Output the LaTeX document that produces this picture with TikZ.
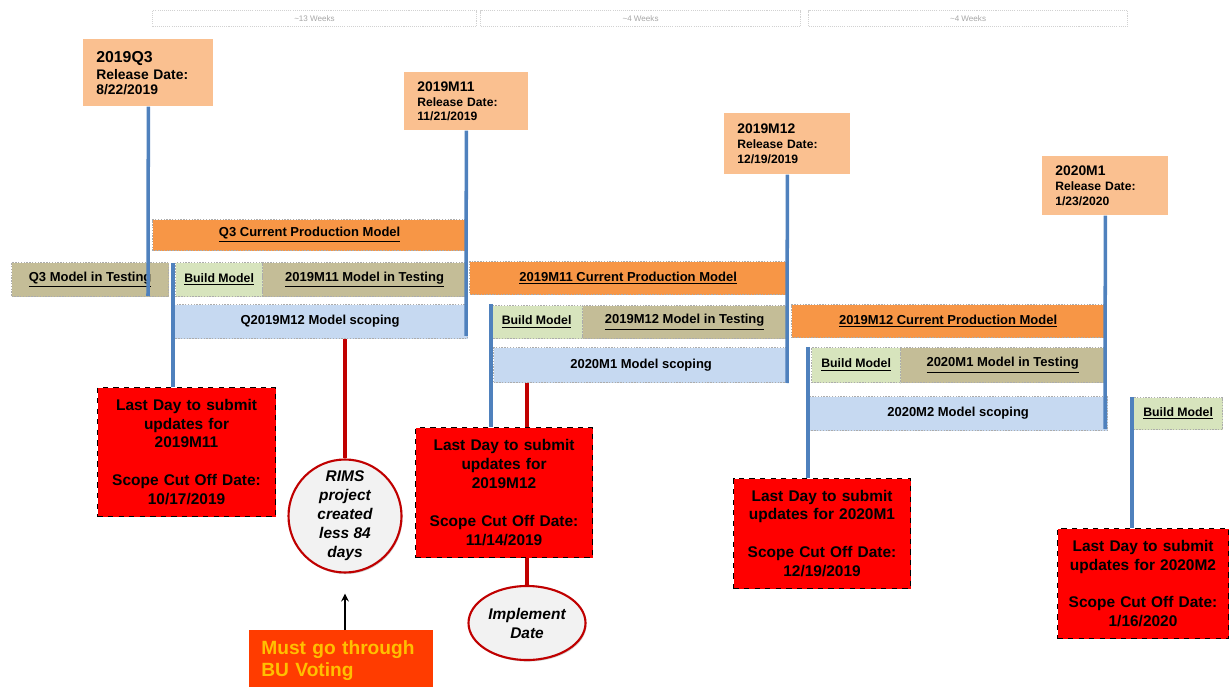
\documentclass[tikz,border=0pt]{standalone}
\usepackage{fontspec}
\setmainfont{Liberation Sans}
\usetikzlibrary{shapes.geometric,shadows}

\definecolor{relpeach}{HTML}{FAC090}
\definecolor{prodorange}{HTML}{F79646}
\definecolor{testtan}{HTML}{C4BD97}
\definecolor{buildgreen}{HTML}{D7E4BD}
\definecolor{scopeblue}{HTML}{C6D9F1}
\definecolor{lineblue}{HTML}{4F81BD}
\definecolor{darkred}{HTML}{C00000}
\definecolor{voteorange}{HTML}{FF3C00}
\definecolor{voteyellow}{HTML}{FFC000}

\tikzset{
  bar/.style={draw=gray!65, dash pattern=on 0.8pt off 0.8pt, line width=0.7pt,
    inner sep=0pt, anchor=north west, font=\fontsize{7.4}{9}\selectfont\bfseries},
  prod/.style={bar, fill=prodorange},
  test/.style={bar, fill=testtan},
  build/.style={bar, fill=buildgreen, font=\fontsize{7}{9}\selectfont\bfseries},
  scope/.style={bar, fill=scopeblue},
  week/.style={draw=gray!35, dash pattern=on 0.6pt off 0.6pt, line width=0.6pt,
    inner sep=0pt, anchor=north west, text=gray!70, font=\fontsize{4.6}{5}\selectfont},
  rel/.style={fill=relpeach, anchor=north west, inner xsep=2.6mm, inner ysep=0pt,
    align=left, font=\fontsize{6.9}{8.3}\selectfont\bfseries},
  cutoff/.style={draw=black, dashed, line width=0.6pt, fill=red, anchor=north west,
    inner sep=0pt, align=center, font=\fontsize{8.8}{10.8}\selectfont\bfseries},
  milestone/.style={draw=lineblue, line width=2pt},
  redline/.style={draw=darkred, line width=1.9pt},
  note/.style={draw=darkred, line width=1.2pt, fill=gray!10, inner sep=0pt, align=center,
    drop shadow={opacity=0.35, shadow xshift=0.6pt, shadow yshift=-0.9pt},
    font=\fontsize{8.8}{10.8}\selectfont\bfseries\itshape},
}

\begin{document}
\begin{tikzpicture}[x=0.2mm, y=-0.2mm]
  \useasboundingbox (0,0) rectangle (1229,687);

  % week spans
  \node[week, minimum width=324*0.2mm, minimum height=16*0.2mm] (wk1) at (152,10) {\textasciitilde13 Weeks};
  \node[week, minimum width=320*0.2mm, minimum height=16*0.2mm] (wk2) at (480,10) {\textasciitilde4 Weeks};
  \node[week, minimum width=319*0.2mm, minimum height=16*0.2mm] (wk3) at (808,10) {\textasciitilde4 Weeks};

  % releases
  \node[rel, text width=104*0.2mm, minimum height=67*0.2mm, font=\fontsize{7.9}{8.6}\selectfont\bfseries] (rq3) at (83,39)
    {{\fontsize{9}{10}\selectfont 2019Q3}\\[1pt]Release Date:\\8/22/2019};
  \node[rel, text width=98*0.2mm, minimum height=58*0.2mm] (rm11) at (404,72)
    {{\fontsize{7.9}{8.6}\selectfont 2019M11}\\Release Date:\\11/21/2019};
  \node[rel, text width=100*0.2mm, minimum height=61*0.2mm] (rm12) at (724,113)
    {{\fontsize{7.9}{8.6}\selectfont 2019M12}\\Release Date:\\12/19/2019};
  \node[rel, text width=100*0.2mm, minimum height=59*0.2mm] (rm1) at (1042,156)
    {{\fontsize{7.9}{8.6}\selectfont 2020M1}\\Release Date:\\1/23/2020};

  % bars
  \node[prod, minimum width=314*0.2mm, minimum height=31*0.2mm] (q3prod) at (152,219) {\underline{Q3 Current Production Model}};
  \node[test, minimum width=157*0.2mm, minimum height=34*0.2mm] (q3test) at (11,262) {\underline{Q3 Model in Testing}};
  \node[build, minimum width=87*0.2mm, minimum height=34*0.2mm] (bm1) at (175,262) {\underline{Build Model}};
  \node[test, minimum width=204*0.2mm, minimum height=34*0.2mm] (m11test) at (262,262) {\underline{2019M11 Model in Testing}};
  \node[prod, minimum width=317*0.2mm, minimum height=33*0.2mm] (m11prod) at (469,261) {\underline{2019M11 Current Production Model}};
  \node[scope, minimum width=295*0.2mm, minimum height=34*0.2mm] (m12scope) at (172,304) {Q2019M12 Model scoping};
  \node[build, minimum width=92*0.2mm, minimum height=33*0.2mm] (bm2) at (490,305) {\underline{Build Model}};
  \node[test, minimum width=204*0.2mm, minimum height=33*0.2mm] (m12test) at (582,305) {\underline{2019M12 Model in Testing}};
  \node[prod, minimum width=313*0.2mm, minimum height=33*0.2mm] (m12prod) at (791,304) {\underline{2019M12 Current Production Model}};
  \node[scope, minimum width=295*0.2mm, minimum height=35*0.2mm] (m1scope) at (493,347) {2020M1 Model scoping};
  \node[build, minimum width=89*0.2mm, minimum height=35*0.2mm] (bm3) at (811,347) {\underline{Build Model}};
  \node[test, minimum width=204*0.2mm, minimum height=35*0.2mm] (m1test) at (900,347) {\underline{2020M1 Model in Testing}};
  \node[scope, minimum width=299*0.2mm, minimum height=34*0.2mm] (m2scope) at (808,396) {2020M2 Model scoping};
  \node[build, minimum width=89*0.2mm, minimum height=32*0.2mm] (bm4) at (1133,397) {\underline{Build Model}};

  % cut off dates
  \node[cutoff, text width=178*0.2mm, minimum height=129*0.2mm] (cut1) at (97,387)
    {Last Day to submit\\updates for\\2019M11\\[10.8pt]Scope Cut Off Date:\\10/17/2019};
  \node[cutoff, text width=177*0.2mm, minimum height=130*0.2mm] (cut2) at (415,427)
    {Last Day to submit\\updates for\\2019M12\\[10.8pt]Scope Cut Off Date:\\11/14/2019};
  \node[cutoff, text width=177*0.2mm, minimum height=110*0.2mm] (cut3) at (733,478)
    {Last Day to submit\\updates for 2020M1\\[10.8pt]Scope Cut Off Date:\\12/19/2019};
  \node[cutoff, text width=171*0.2mm, minimum height=110*0.2mm] (cut4) at (1057,528)
    {Last Day to submit\\updates for 2020M2\\[10.8pt]Scope Cut Off Date:\\1/16/2020};

  % notes
  \node[note, circle, minimum size=113*0.2mm] (rims) at (345,516) {RIMS\\project\\created\\less 84\\days};
  \node[note, ellipse, minimum width=117*0.2mm, minimum height=74*0.2mm] (impl) at (527,623) {Implement\\Date};
  \node[fill=voteorange, text=voteyellow, anchor=north west, inner xsep=2.4mm, inner ysep=0pt,
    text width=160*0.2mm, minimum height=60*0.2mm, align=left,
    font=\fontsize{10.9}{12.5}\selectfont\bfseries] (vote) at (249,630) {Must go through\\BU Voting};

  % release lines
  \coordinate (q3end) at (148,296);
  \coordinate (m11end) at (466,336);
  \coordinate (m12end) at (787,383);
  \coordinate (m1end) at (1105,429);
  \draw[milestone] (rq3.south) -- (q3end);
  \draw[milestone] (rm11.south) -- (m11end);
  \draw[milestone] (rm12.south) -- (m12end);
  \draw[milestone] (rm1.south) -- (m1end);

  % cut off lines
  \coordinate (c1top) at (173,263);
  \coordinate (c2top) at (491,304);
  \coordinate (c3top) at (808,347);
  \coordinate (c4top) at (1132,397);
  \draw[milestone] (c1top) -- (c1top |- cut1.north);
  \draw[milestone] (c2top) -- (c2top |- cut2.north);
  \draw[milestone] (c3top) -- (c3top |- cut3.north);
  \draw[milestone] (c4top) -- (c4top |- cut4.north);

  \draw[redline] (rims.north |- m12scope.south) -- (rims.north);
  \draw[redline] (impl.north |- m1scope.south) -- (impl.north |- cut2.north);
  \draw[redline] (impl.north |- cut2.south) -- (impl.north);
  \draw[-stealth, line width=1pt, shorten >=4mm] (vote.north -| rims.south) -- (rims.south);
\end{tikzpicture}
\end{document}
